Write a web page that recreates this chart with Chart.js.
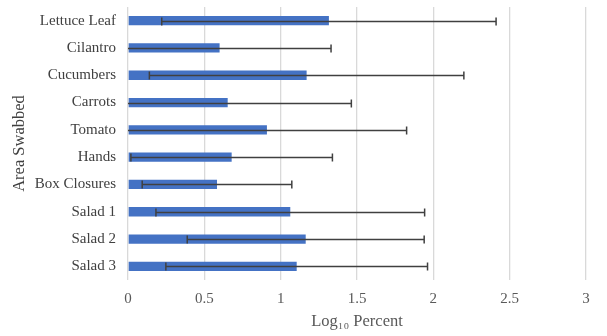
<!DOCTYPE html>
<html>
<head>
<meta charset="utf-8">
<script src="https://cdn.jsdelivr.net/npm/chart.js@4/dist/chart.umd.min.js"></script>
<style>
  html, body { margin: 0; padding: 0; background: #fff; }
  #wrap { width: 607px; height: 336px; }
</style>
</head>
<body>
<div id="wrap"><canvas id="chart"></canvas></div>
<script>
// =============================================================================
// DATA
// =============================================================================
const areas = [
  "Lettuce Leaf", "Cilantro", "Cucumbers", "Carrots", "Tomato",
  "Hands", "Box Closures", "Salad 1", "Salad 2", "Salad 3"
];
const logPercent = [1.316, 0.60, 1.17, 0.653, 0.91, 0.679, 0.583, 1.063, 1.164, 1.105];
const errorPlusMinus = [1.095, 0.73, 1.03, 0.81, 0.915, 0.66, 0.49, 0.88, 0.776, 0.857];
const xTicks = [0, 0.5, 1, 1.5, 2, 2.5, 3];

// =============================================================================
// ERROR BARS PLUGIN
// =============================================================================
const errorBars = {
  id: "errorBars",
  afterDatasetsDraw(chart) {
    const ctx = chart.ctx;
    const xs = chart.scales.x;
    const meta = chart.getDatasetMeta(0);
    const area = chart.chartArea;
    ctx.save();
    ctx.strokeStyle = "#404040";
    ctx.lineWidth = 1.5;
    meta.data.forEach((bar, i) => {
      const v = logPercent[i];
      const e = errorPlusMinus[i];
      const lo = v - e;
      const hi = v + e;
      const xLo = Math.max(xs.getPixelForValue(lo), area.left);
      const xHi = xs.getPixelForValue(hi);
      const y = Math.round(bar.y) + 0.5;
      ctx.beginPath();
      ctx.moveTo(xLo, y);
      ctx.lineTo(xHi, y);
      ctx.moveTo(xHi, y - 4);
      ctx.lineTo(xHi, y + 4);
      if (lo >= 0) {
        ctx.moveTo(xLo, y - 4);
        ctx.lineTo(xLo, y + 4);
      }
      ctx.stroke();
    });
    ctx.restore();
  }
};

// =============================================================================
// CHART
// =============================================================================
const serif = "'Liberation Serif', 'Times New Roman', serif";

new Chart(document.getElementById("chart").getContext("2d"), {
  type: "bar",
  data: {
    labels: areas,
    datasets: [{
      data: logPercent,
      backgroundColor: "#4472C4",
      barPercentage: 0.34,
      categoryPercentage: 1
    }]
  },
  options: {
    indexAxis: "y",
    responsive: true,
    maintainAspectRatio: false,
    animation: false,
    layout: { padding: { left: 0, right: 21, top: 7, bottom: 0 } },
    plugins: {
      legend: { display: false },
      tooltip: { enabled: false }
    },
    scales: {
      x: {
        min: 0,
        max: 3,
        afterBuildTicks: scale => {
          scale.ticks = xTicks.map(v => ({ value: v }));
        },
        afterFit: scale => {
          scale.height = 56;
          scale.paddingLeft = 0;
          scale.paddingRight = 0;
        },
        grid: { color: "#d9d9d9", lineWidth: 1.3, drawTicks: false },
        border: { display: false },
        ticks: {
          color: "#595959",
          padding: 10,
          font: { family: serif, size: 15 },
          callback: v => String(v)
        },
        title: {
          display: true,
          text: "Log\u2081\u2080 Percent",
          color: "#595959",
          font: { family: serif, size: 16.5 },
          padding: { top: 0, bottom: 4 }
        }
      },
      y: {
        afterFit: scale => {
          scale.width = 128;
          scale.paddingTop = 0;
          scale.paddingBottom = 0;
        },
        grid: { display: false, drawTicks: false },
        border: { display: false },
        ticks: {
          color: "#404040",
          padding: 12,
          font: { family: serif, size: 15 }
        },
        title: {
          display: true,
          text: "Area Swabbed",
          color: "#404040",
          font: { family: serif, size: 16.5 },
          padding: { top: 10, bottom: 0 }
        }
      }
    }
  },
  plugins: [errorBars]
});
</script>
</body>
</html>
